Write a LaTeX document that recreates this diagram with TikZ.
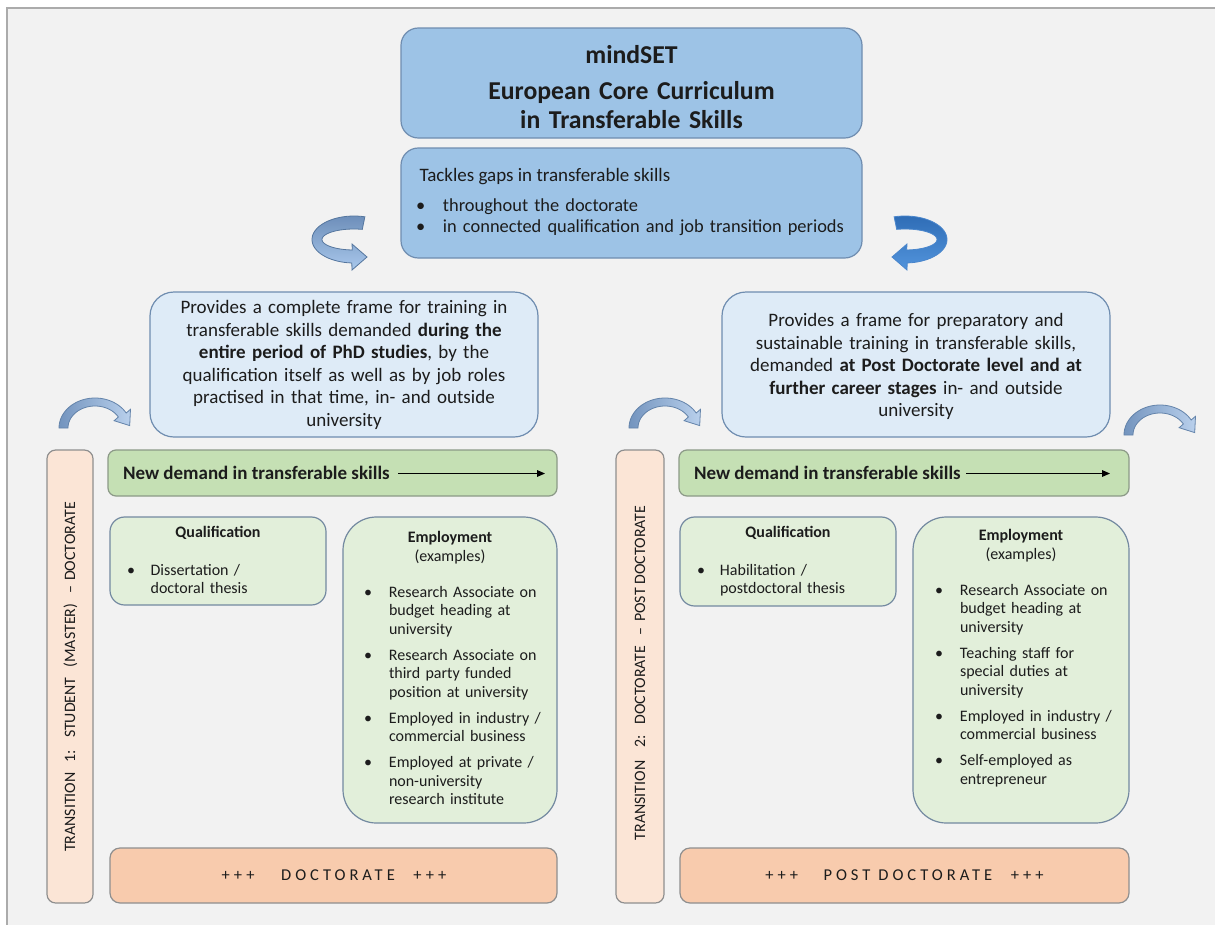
\documentclass[tikz,border=0pt]{standalone}
\usepackage{fontspec}
\setmainfont{Carlito}
\usetikzlibrary{arrows.meta,fit}
\definecolor{bg}{HTML}{F2F2F2}
\definecolor{frameline}{HTML}{ABABAB}
\definecolor{titlefill}{HTML}{9DC3E6}
\definecolor{titledraw}{HTML}{6F8DB0}
\definecolor{provfill}{HTML}{DEEBF7}
\definecolor{greenbar}{HTML}{C5E0B4}
\definecolor{greendraw}{HTML}{8C9A87}
\definecolor{greenlight}{HTML}{E2EFDA}
\definecolor{boxdraw}{HTML}{7389A0}
\definecolor{peachlight}{HTML}{FBE5D6}
\definecolor{peach}{HTML}{F8CBAD}
\definecolor{graydraw}{HTML}{8F8F8F}
\definecolor{txt}{HTML}{1C1C1C}
\definecolor{arcA}{HTML}{7394BE}
\definecolor{arcB}{HTML}{B9D0EC}
\definecolor{arcdraw}{HTML}{6383AA}
\definecolor{cA}{HTML}{6E8FBA}
\definecolor{cB}{HTML}{A9C8EC}
\definecolor{cdraw}{HTML}{55769E}
\definecolor{dA}{HTML}{2F6DB6}
\definecolor{dB}{HTML}{5294DC}
\definecolor{ddraw}{HTML}{4A86CC}

\newlength\bulind
\newcommand\bul[1]{\noindent\hangindent=\bulind\hangafter=1\makebox[\bulind][l]{\textbullet}#1\par}
\newcommand\bgap{\vspace{5.3pt}}
\newcommand\spaced[1]{{\addfontfeature{LetterSpace=24}#1}}
\newcommand\smallarc[2]{%
  \begin{scope}[shift={(#1,#2)}]
    \draw[draw=arcdraw, line width=0.6pt, left color=arcA, right color=arcB]
      plot[domain=180:330, samples=36] ({36*cos(\x)},{30*sin(\x)})
      -- (35.5,-18.7) -- (34.7,-2.4) -- (19.1,-7.3)
      -- plot[domain=330:180, samples=36] ({27*cos(\x)},{22*sin(\x)})
      -- cycle;
  \end{scope}}

\tikzset{
  boxbase/.style={inner sep=0pt, line width=0.9pt},
  bluebox/.style={boxbase, draw=titledraw, fill=titlefill, rounded corners=13pt},
  provbox/.style={boxbase, draw=titledraw, fill=provfill, rounded corners=18pt},
  greenbox/.style={boxbase, draw=greendraw, fill=greenbar, rounded corners=6pt},
  qualbox/.style={boxbase, draw=boxdraw, fill=greenlight, rounded corners=11pt},
  empbox/.style={boxbase, draw=boxdraw, fill=greenlight, rounded corners=25pt},
  transbox/.style={boxbase, draw=graydraw, fill=peachlight, rounded corners=6.5pt},
  docbox/.style={boxbase, draw=graydraw, fill=peach, rounded corners=7.5pt},
  txtbase/.style={inner sep=0pt, outer sep=0pt, text=txt},
  titletext/.style={txtbase, text width=330pt, align=center, font=\fontsize{19.3pt}{21.75pt}\selectfont\bfseries},
  bigtext/.style={txtbase, font=\fontsize{14.25pt}{16.2pt}\selectfont},
  biglist/.style={bigtext, font=\fontsize{13.8pt}{16.2pt}\selectfont, text width=380pt, align=left},
  provtext/.style={txtbase, text width=290pt, align=center, font=\fontsize{14.25pt}{16.9pt}\selectfont},
  greentext/.style={txtbase, font=\fontsize{14.25pt}{17pt}\selectfont\bfseries},
  smalltext/.style={txtbase, font=\fontsize{12pt}{14pt}\selectfont},
  listtext/.style={smalltext, text width=150pt, align=left},
  hdrtext/.style={txtbase, font=\fontsize{12pt}{14.4pt}\selectfont, text width=150pt, align=center},
  transtext/.style={txtbase, rotate=90, font=\fontsize{11.9pt}{14pt}\selectfont},
  doctext/.style={txtbase, font=\fontsize{12.4pt}{14pt}\selectfont},
  demandarrow/.style={-{Triangle[length=6pt,width=5pt]}, line width=0.75pt, black},
}

\begin{document}
\begin{tikzpicture}[x=0.75pt,y=-0.75pt]
\useasboundingbox (0,0) rectangle (1215,925);
\fill[white] (0,0) rectangle (1215,925);
\fill[bg] (7,8) rectangle (1215,925);
\draw[frameline, line width=1.4pt] (1215,8) -- (7,8) -- (7,925);

% ---------- boxes
\node[bluebox, fit={(401,28) (862,138)}] (title) {};
\node[bluebox, fit={(401,148) (862,258)}] (tackle) {};
\node[provbox, fit={(150,292) (538,437)}] (provL) {};
\node[provbox, fit={(722,292) (1110,437)}] (provR) {};
\node[transbox, fit={(47,450) (93,903)}] (transL) {};
\node[greenbox, fit={(108,450) (557,496)}] (greenL) {};
\node[qualbox, fit={(110,517) (326,605)}] (qualL) {};
\node[empbox, fit={(343,517) (557,823)}] (empL) {};
\node[docbox, fit={(110,848) (557,903)}] (docL) {};
\node[transbox, fit={(616,450) (664,903)}] (transR) {};
\node[greenbox, fit={(679,450) (1129,496)}] (greenR) {};
\node[qualbox, fit={(680,517) (896,606)}] (qualR) {};
\node[empbox, fit={(913,517) (1129,823)}] (empR) {};
\node[docbox, fit={(680,848) (1129,903)}] (docR) {};

% ---------- curved block arrows
\draw[draw=cdraw, line width=0.6pt, top color=cA, bottom color=cB]
  plot[domain=285:93, samples=40] ({354+42*cos(\x)},{239.5+23.5*sin(\x)})
  -- (352,270) -- (367,257) -- (352,244)
  -- plot[domain=93:285, samples=40] ({354+32*cos(\x)},{239.5+10.5*sin(\x)})
  -- cycle;
\draw[draw=ddraw, line width=0.6pt, top color=dA, bottom color=dB]
  plot[domain=285:93, samples=40] ({905-42*cos(\x)},{239.5+23.5*sin(\x)})
  -- (907,270) -- (892,257) -- (907,244)
  -- plot[domain=93:285, samples=40] ({905-32*cos(\x)},{239.5+10.5*sin(\x)})
  -- cycle;
\smallarc{95}{428}
\smallarc{665}{428}
\smallarc{1160}{435}

% ---------- texts
\node[titletext, anchor=base] (titletxt) at (631.5,63)
  {mindSET\\[5.25pt]European Core Curriculum\\in Transferable Skills};

\node[bigtext, anchor=base west] (tack1) at (419.5,181.5) {Tackles gaps in transferable skills};
\node[biglist, anchor=base west] (tack2) at (416,211)
  {\setlength\bulind{20.25pt}\bul{throughout the doctorate}\bul{in connected qualification and job transition periods}};

\node[provtext, anchor=base] (provLt) at (344,313.5)
  {Provides a complete frame for training in\\
   transferable skills demanded \textbf{during the}\\
   \textbf{entire period of PhD studies}, by the\\
   qualification itself as well as by job roles\\
   practised in that time, in- and outside\\
   university};
\node[provtext, anchor=base] (provRt) at (916,326.5)
  {Provides a frame for preparatory and\\
   sustainable training in transferable skills,\\
   demanded \textbf{at Post Doctorate level and at}\\
   \textbf{further career stages} in- and outside\\
   university};

% green bars
\node[greentext, anchor=base west] (newL) at (123,479.5) {New demand in transferable skills};
\coordinate (dL1) at (398,473.5);
\coordinate (dL2) at (545,473.5);
\draw[demandarrow] (dL1) -- (dL2);
\node[greentext, anchor=base west] (newR) at (694,479.5) {New demand in transferable skills};
\coordinate (dR1) at (966,473.5);
\coordinate (dR2) at (1110,473.5);
\draw[demandarrow] (dR1) -- (dR2);

% qualification boxes
\node[smalltext, anchor=base, font=\fontsize{12pt}{14pt}\selectfont\bfseries] (qLh) at (218,537) {Qualification};
\node[listtext, anchor=base west] (qLl) at (127,575)
  {\setlength\bulind{17.7pt}\bul{Dissertation /\newline doctoral thesis}};
\node[smalltext, anchor=base, font=\fontsize{12pt}{14pt}\selectfont\bfseries] (qRh) at (788,537) {Qualification};
\node[listtext, anchor=base west] (qRl) at (697,575)
  {\setlength\bulind{17.25pt}\bul{Habilitation /\newline postdoctoral thesis}};

% employment boxes
\node[hdrtext, anchor=base] (eLh) at (450,542) {\textbf{Employment}\\(examples)};
\node[listtext, anchor=base west] (eLl) at (364,597)
  {\setlength\bulind{18.75pt}%
   \bul{Research Associate on\newline budget heading at\newline university}\bgap
   \bul{Research Associate on\newline third party funded\newline position at university}\bgap
   \bul{Employed in industry /\newline commercial business}\bgap
   \bul{Employed at private /\newline non-university\newline research institute}};
\node[hdrtext, anchor=base] (eRh) at (1021,540) {\textbf{Employment}\\(examples)};
\node[listtext, anchor=base west] (eRl) at (935,595)
  {\setlength\bulind{18.75pt}%
   \bul{Research Associate on\newline budget heading at\newline university}\bgap
   \bul{Teaching staff for\newline special duties at\newline university}\bgap
   \bul{Employed in industry /\newline commercial business}\bgap
   \bul{Self-employed as\newline entrepreneur}};

% doctorate bars
\node[doctext, anchor=base] (docLt) at (334,880)
  {\spaced{+++}\hspace{20pt}\spaced{DOCTORATE}\hspace{14pt}\spaced{+++}};
\node[doctext, anchor=base] (docRt) at (904.5,880)
  {\spaced{+++}\hspace{19pt}\spaced{POST}\hspace{6pt}\spaced{DOCTORATE}\hspace{14pt}\spaced{+++}};

% transition bars
\node[transtext, anchor=base] (trLt) at (75,677)
  {TRANSITION\hspace{7.5pt}1:\hspace{9pt}STUDENT\hspace{7.5pt}(MASTER)\hspace{7.5pt}–\hspace{3.75pt}DOCTORATE};
\node[transtext, anchor=base] (trRt) at (645,673)
  {TRANSITION\hspace{9.75pt}2:\hspace{8.25pt}DOCTORATE\hspace{7.5pt}–\hspace{4.5pt}POST DOCTORATE};
\end{tikzpicture}
\end{document}
